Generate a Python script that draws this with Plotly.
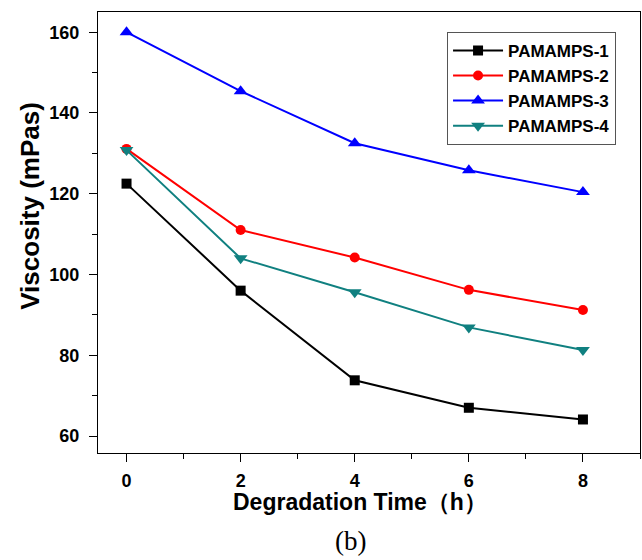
import plotly.graph_objects as go

# Degradation time (h)
time_h = [0, 2, 4, 6, 8]

# Viscosity (mPas) for each polymer sample
pamamps_1 = [122.5, 96.0, 73.8, 67.0, 64.1]
pamamps_2 = [131.1, 111.0, 104.2, 96.2, 91.2]
pamamps_3 = [160.0, 145.4, 132.5, 125.8, 120.4]
pamamps_4 = [130.8, 104.0, 95.6, 86.9, 81.3]

series_names = ["PAMAMPS-1", "PAMAMPS-2", "PAMAMPS-3", "PAMAMPS-4"]
series_values = [pamamps_1, pamamps_2, pamamps_3, pamamps_4]
colors = ["#000000", "#ff0000", "#0000ff", "#108080"]
symbols = ["square", "circle", "triangle-up", "triangle-down"]

FONT = "Arial, Liberation Sans, sans-serif"

fig = go.Figure()
for name, vals, col, sym in zip(series_names, series_values, colors, symbols):
    fig.add_trace(go.Scatter(
        x=time_h, y=vals, name=name, mode="lines+markers",
        line=dict(color=col, width=2),
        marker=dict(symbol=sym, size=12 if "triangle" in sym else 10, color=col),
    ))

axis_common = dict(
    showline=True, linecolor="#000000", linewidth=1, mirror=True,
    ticks="outside", ticklen=8, tickwidth=1, tickcolor="#000000",
    showgrid=False, zeroline=False,
    tickfont=dict(family=FONT, size=18, color="#000000", weight="bold"),
)

fig.update_xaxes(
    range=[-0.5, 9.0], tickvals=time_h, ticklabelstandoff=3,
    minor=dict(ticks="outside", ticklen=5, tickwidth=1, tickcolor="#000000", dtick=1, tick0=1),
    **axis_common,
)
fig.update_yaxes(
    range=[55.8, 165.0], tickvals=[60, 80, 100, 120, 140, 160], ticklabelstandoff=6,
    minor=dict(ticks="outside", ticklen=5, tickwidth=1, tickcolor="#000000", dtick=10, tick0=70),
    **axis_common,
)

# Axis titles
fig.add_annotation(
    text="Degradation Time（h）", xref="paper", yref="paper", x=0.483, y=-0.112,
    xanchor="center", yanchor="middle", showarrow=False,
    font=dict(family=FONT, size=23, color="#000000", weight="bold"),
)
fig.add_annotation(
    text="Viscosity (mPas)", xref="paper", yref="paper", x=-0.126, y=0.56,
    xanchor="center", yanchor="middle", textangle=-90, showarrow=False,
    font=dict(family=FONT, size=26, color="#000000", weight="bold"),
)

fig.add_annotation(
    text="(b)", xref="paper", yref="paper", x=0.465, y=-0.2,
    xanchor="center", yanchor="middle", showarrow=False,
    font=dict(family="Times New Roman, Liberation Serif, serif", size=27, color="#000000"),
)

fig.update_layout(
    width=642, height=560,
    margin=dict(l=98, r=2, t=12, b=107),
    paper_bgcolor="#ffffff", plot_bgcolor="#ffffff",
    legend=dict(
        x=0.644, y=0.955, xanchor="left", yanchor="top",
        bordercolor="#555555", borderwidth=1, bgcolor="#ffffff",
        font=dict(family=FONT, size=17, color="#000000", weight="bold"),
        tracegroupgap=0, itemwidth=50,
    ),
)

fig.write_html("out.html")
